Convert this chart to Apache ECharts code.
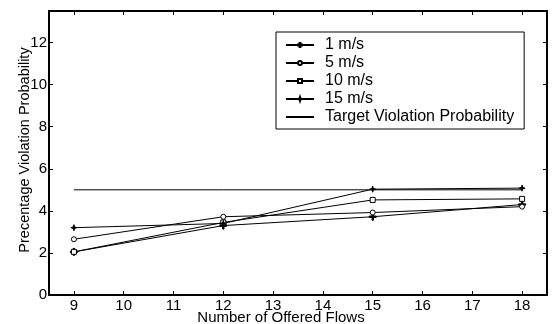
<!DOCTYPE html>
<html>
<head>
<meta charset="utf-8">
<script src="https://cdn.jsdelivr.net/npm/echarts@6/dist/echarts.min.js"></script>
<style>
  html, body { margin: 0; padding: 0; background: #fff; }
  #chart { width: 552px; height: 324px; }
</style>
</head>
<body>
<div id="chart"></div>
<script>
  const flows = [9, 12, 15, 18];
  const v1 = [2.05, 3.3, 3.72, 4.3];
  const v5 = [2.65, 3.72, 3.92, 4.2];
  const v10 = [2.05, 3.45, 4.52, 4.57];
  const v15 = [3.2, 3.4, 5.03, 5.08];
  const target = [5, 5, 5, 5];

  const font = '"Liberation Sans", Arial, sans-serif';
  const plus = 'path://M4,0H6V4H10V6H6V10H4V6H0V4H4Z';
  const star = 'path://M5,0L6.2,3.8L10,5L6.2,6.2L5,10L3.8,6.2L0,5L3.8,3.8Z';

  const pares = arr => flows.map((x, i) => [x, arr[i]]);

  function serie(nome, dados, simbolo, tam, cheio) {
    return {
      name: nome,
      type: 'line',
      data: pares(dados),
      symbol: simbolo,
      symbolSize: tam,
      showSymbol: simbolo !== 'none',
      lineStyle: { color: '#000', width: 1 },
      itemStyle: { color: cheio ? '#000' : '#fff', borderColor: '#000', borderWidth: 1 },
      emphasis: { disabled: true },
      animation: false
    };
  }

  const eixoX = (pos, labels) => ({
    type: 'value',
    position: pos,
    min: 8.5,
    max: 18.5,
    splitNumber: 10,
    axisLine: { show: true, onZero: false, lineStyle: { color: '#000', width: 2 } },
    axisTick: { show: true, inside: true, length: 4, lineStyle: { color: '#000' } },
    axisLabel: {
      show: labels,
      color: '#000',
      fontFamily: font,
      fontSize: 15,
      margin: 3,
      formatter: v => (Number.isInteger(v) ? String(v) : '')
    },
    splitLine: { show: false }
  });

  const eixoY = (pos, labels) => ({
    type: 'value',
    position: pos,
    min: 0,
    max: 13.5,
    interval: 2,
    axisLine: { show: true, onZero: false, lineStyle: { color: '#000', width: 2 } },
    axisTick: { show: true, inside: true, length: 4, lineStyle: { color: '#000' } },
    axisLabel: {
      show: labels,
      color: '#000',
      fontFamily: font,
      fontSize: 15,
      margin: 2,
      showMaxLabel: false,
      formatter: v => (v % 2 === 0 ? String(v) : '')
    },
    splitLine: { show: false }
  });

  const x0 = eixoX('bottom', true);
  x0.name = 'Number of Offered Flows';
  x0.nameLocation = 'middle';
  x0.nameGap = 15;
  x0.nameMoveOverlap = false;
  x0.nameTextStyle = { color: '#000', fontFamily: font, fontSize: 15, padding: [0, 34, 0, 0] };

  const y0 = eixoY('left', true);
  y0.name = 'Precentage Violation Probability';
  y0.nameLocation = 'middle';
  y0.nameGap = 17;
  y0.nameMoveOverlap = false;
  y0.nameTextStyle = { color: '#000', fontFamily: font, fontSize: 14.5, padding: [0, 0, 0, 6] };

  const chart = echarts.init(document.getElementById('chart'));
  chart.setOption({
    animation: false,
    backgroundColor: '#fff',
    grid: { left: 49, right: 5, top: 11, bottom: 29, outerBoundsMode: 'none' },
    xAxis: [x0, eixoX('top', false)],
    yAxis: [y0, eixoY('right', false)],
    legend: {
      orient: 'vertical',
      left: 276,
      top: 32,
      padding: [5, 10, 4, 9],
      itemGap: 2,
      itemWidth: 28,
      itemHeight: 5,
      backgroundColor: '#fff',
      borderColor: '#000',
      borderWidth: 1,
      textStyle: { color: '#000', fontFamily: font, fontSize: 16, padding: [0, 0, 0, 6] },
      data: [
        '1 m/s', '5 m/s', '10 m/s', '15 m/s',
        { name: 'Target Violation Probability', itemStyle: { opacity: 0 } }
      ]
    },
    series: [
      serie('1 m/s', v1, plus, 7, true),
      serie('5 m/s', v5, 'circle', 5, false),
      serie('10 m/s', v10, 'rect', 5, false),
      serie('15 m/s', v15, star, 6, true),
      serie('Target Violation Probability', target, 'none', 0, true)
    ]
  });
</script>
</body>
</html>
